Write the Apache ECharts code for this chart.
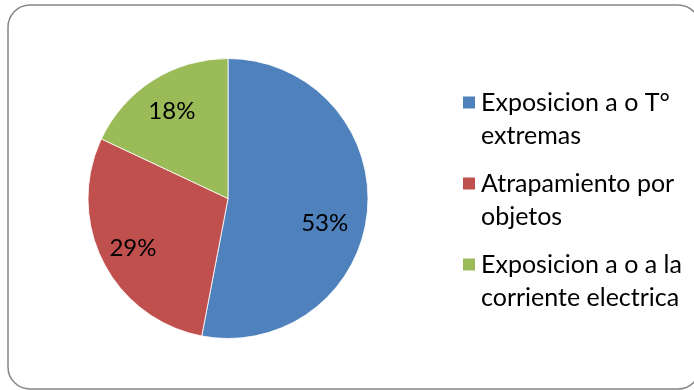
<!DOCTYPE html>
<html>
<head>
<meta charset="utf-8">
<script src="https://cdn.jsdelivr.net/npm/echarts@6/dist/echarts.min.js"></script>
<style>
  html, body { margin: 0; padding: 0; background: #fff; }
  #chart { width: 694px; height: 390px; }
</style>
</head>
<body>
<div id="chart"></div>
<script>
// Causes of accidents (share of cases)
const categories = [
  'Exposicion a o T°\nextremas',
  'Atrapamiento por\nobjetos',
  'Exposicion a o a la\ncorriente electrica'
];
const values = [53, 29, 18];
const colors = ['#4F81BD', '#C0504D', '#9BBB59'];
// Nudges that move each percentage label off the default inner position
const labelOffsets = [[24, 18], [-30, 17], [-17, -26]];

const FONT = 'Lato';

const chart = echarts.init(document.getElementById('chart'), null, { renderer: 'canvas' });

const option = {
  animation: false,
  backgroundColor: '#ffffff',
  color: colors,
  graphic: [{
    type: 'rect',
    shape: { x: 8, y: 5, width: 692, height: 384, r: 22 },
    style: { fill: 'none', stroke: '#868686', lineWidth: 1.5 },
    z: 0
  }],
  legend: {
    orient: 'vertical',
    left: 461,
    top: 53,
    padding: 0,
    itemGap: -18,
    itemWidth: 14,
    itemHeight: 14,
    icon: 'rect',
    selectedMode: false,
    // a leading empty line keeps the first text line level with the swatch
    formatter: name => '\n' + name,
    textStyle: {
      fontFamily: FONT,
      fontSize: 25,
      color: '#000',
      lineHeight: 33
    },
    data: categories
  },
  series: [{
    type: 'pie',
    center: [228, 198.5],
    radius: [0, 140],
    startAngle: 90,
    clockwise: true,
    itemStyle: { borderColor: '#ffffff', borderWidth: 0.8 },
    label: {
      show: true,
      position: 'inside',
      formatter: '{c}%',
      fontFamily: FONT,
      fontSize: 24,
      color: '#000'
    },
    labelLine: { show: false },
    emphasis: { disabled: true },
    data: categories.map((name, i) => ({
      name,
      value: values[i],
      label: { offset: labelOffsets[i] }
    }))
  }]
};

chart.setOption(option);
</script>
</body>
</html>
